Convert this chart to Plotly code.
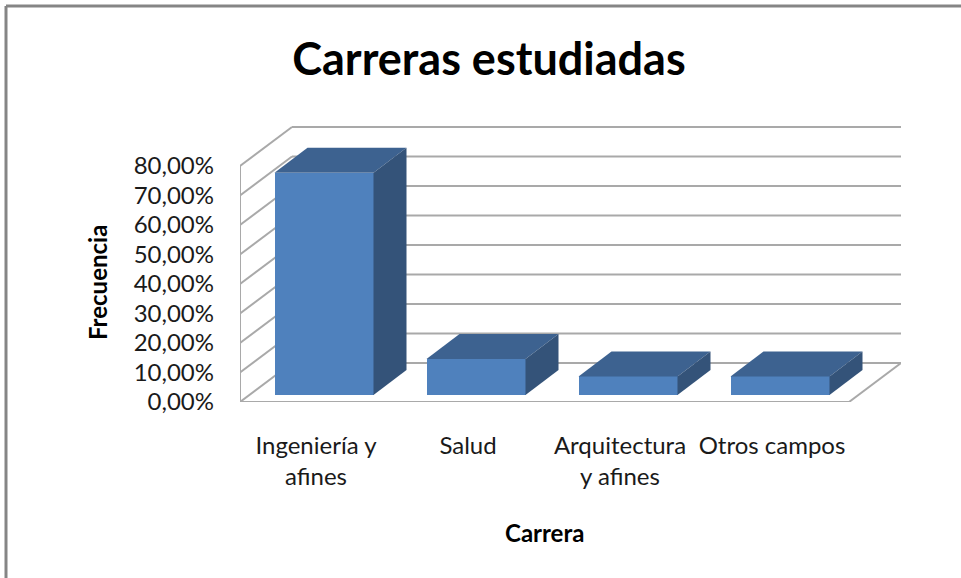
import plotly.graph_objects as go

categories = ["Ingeniería y<br>afines", "Salud", "Arquitectura<br>y afines", "Otros campos"]
values = [75.3, 12.2, 6.3, 6.3]
y_ticks = [0, 10, 20, 30, 40, 50, 60, 70, 80]
y_labels = ["0,00%", "10,00%", "20,00%", "30,00%", "40,00%", "50,00%", "60,00%", "70,00%", "80,00%"]

FONT = "Lato, Carlito, Calibri, sans-serif"
FRONT, TOP, SIDE = "#4F81BD", "#3D6290", "#345379"
GRID = "#A9A9A9"
W, H = 961, 578
L, R, T, B = 240, 60, 125, 176
PW, PH = W - L - R, H - T - B
PX_X, PX_Y = 152.0, 2.95            # pixels per category / per percent
XMIN = -0.5
XMAX = XMIN + PW / PX_X
YMAX = PH / PX_Y
wall_dx, wall_dy = 52 / PX_X, 39 / PX_Y   # depth of the chart box
bar_dx, bar_dy = 33 / PX_X, 25 / PX_Y     # depth of a bar
off_dx, off_dy = 8 / PX_X, 7 / PX_Y       # gap of the bar from the front plane
bar_w = 99 / PX_X

xs = list(range(len(categories)))
fig = go.Figure()

# front faces
fig.add_trace(go.Bar(
    x=[i + off_dx for i in xs], y=values, base=[off_dy] * len(values),
    width=bar_w, marker=dict(color=FRONT, line=dict(width=0)), hoverinfo="skip", showlegend=False,
))

# top and side faces
for i, v in zip(xs, values):
    x0 = i + off_dx - bar_w / 2
    x1 = x0 + bar_w
    y0 = off_dy
    y1 = off_dy + v
    fig.add_trace(go.Scatter(
        x=[x0, x1, x1 + bar_dx, x0 + bar_dx, x0], y=[y1, y1, y1 + bar_dy, y1 + bar_dy, y1],
        mode="lines", fill="toself", fillcolor=TOP, line=dict(width=0), hoverinfo="skip", showlegend=False,
    ))
    fig.add_trace(go.Scatter(
        x=[x1, x1 + bar_dx, x1 + bar_dx, x1, x1], y=[y0, y0 + bar_dy, y1 + bar_dy, y1, y0],
        mode="lines", fill="toself", fillcolor=SIDE, line=dict(width=0), hoverinfo="skip", showlegend=False,
    ))

# walls and floor, drawn underneath the bars
grid_line = dict(color=GRID, width=2)
shapes = []
for t in y_ticks:
    shapes.append(dict(type="line", xref="x", yref="y", layer="below", line=grid_line,
                       x0=XMIN, y0=t, x1=XMIN + wall_dx, y1=t + wall_dy))
    shapes.append(dict(type="line", xref="x", yref="y", layer="below", line=grid_line,
                       x0=XMIN + wall_dx, y0=t + wall_dy, x1=XMAX, y1=t + wall_dy))
shapes += [
    dict(type="line", xref="x", yref="y", layer="below", line=grid_line,
         x0=XMIN, y0=0, x1=XMIN, y1=y_ticks[-1]),
    dict(type="line", xref="x", yref="y", layer="below", line=grid_line,
         x0=XMIN, y0=0, x1=XMAX - wall_dx, y1=0),
    dict(type="line", xref="x", yref="y", layer="below", line=grid_line,
         x0=XMAX - wall_dx, y0=0, x1=XMAX, y1=wall_dy),
    # outer frame of the picture: top and left edges only
    dict(type="line", xref="paper", yref="paper", line=dict(color="#858585", width=3),
         x0=(6 - L) / PW, x1=(W - L) / PW, y0=(H - B - 6) / PH, y1=(H - B - 6) / PH),
    dict(type="line", xref="paper", yref="paper", line=dict(color="#858585", width=3),
         x0=(6 - L) / PW, x1=(6 - L) / PW, y0=-B / PH, y1=(H - B - 6) / PH),
]

annotations = [
    dict(text="<b>Frecuencia</b>", textangle=-90, showarrow=False,
         xref="paper", yref="paper", x=(97 - L) / PW, y=(H - B - 283) / PH,
         xanchor="center", yanchor="middle", font=dict(family=FONT, size=24, color="black")),
    dict(text="<b>Carrera</b>", showarrow=False,
         xref="paper", yref="paper", x=(544 - L) / PW, y=(H - B - 532) / PH,
         xanchor="center", yanchor="middle", font=dict(family=FONT, size=24, color="black")),
]

fig.update_layout(
    width=W, height=H, autosize=False,
    margin=dict(l=L, r=R, t=T, b=B, pad=0),
    paper_bgcolor="white", plot_bgcolor="white",
    font=dict(family=FONT, color="#1a1a1a", size=24),
    title=dict(text="<b>Carreras estudiadas</b>", font=dict(family=FONT, size=45, color="black"),
               x=489 / W, xanchor="center", y=1 - 59 / H, yanchor="middle"),
    shapes=shapes,
    annotations=annotations,
    showlegend=False,
    bargap=0,
    xaxis=dict(
        range=[XMIN, XMAX], tickmode="array", tickvals=xs, ticktext=categories,
        showgrid=False, zeroline=False, showline=False, ticks="", ticklabelstandoff=27,
        tickangle=0, tickfont=dict(family=FONT, size=24, color="#1a1a1a"),
    ),
    yaxis=dict(
        range=[0, YMAX], tickmode="array", tickvals=y_ticks, ticktext=y_labels,
        showgrid=False, zeroline=False, showline=False, ticks="", ticklabelstandoff=25,
        tickfont=dict(family=FONT, size=24, color="#1a1a1a"),
    ),
)

fig.write_html("out.html", config={"displayModeBar": False},
               post_script="document.body.style.margin='0';")
